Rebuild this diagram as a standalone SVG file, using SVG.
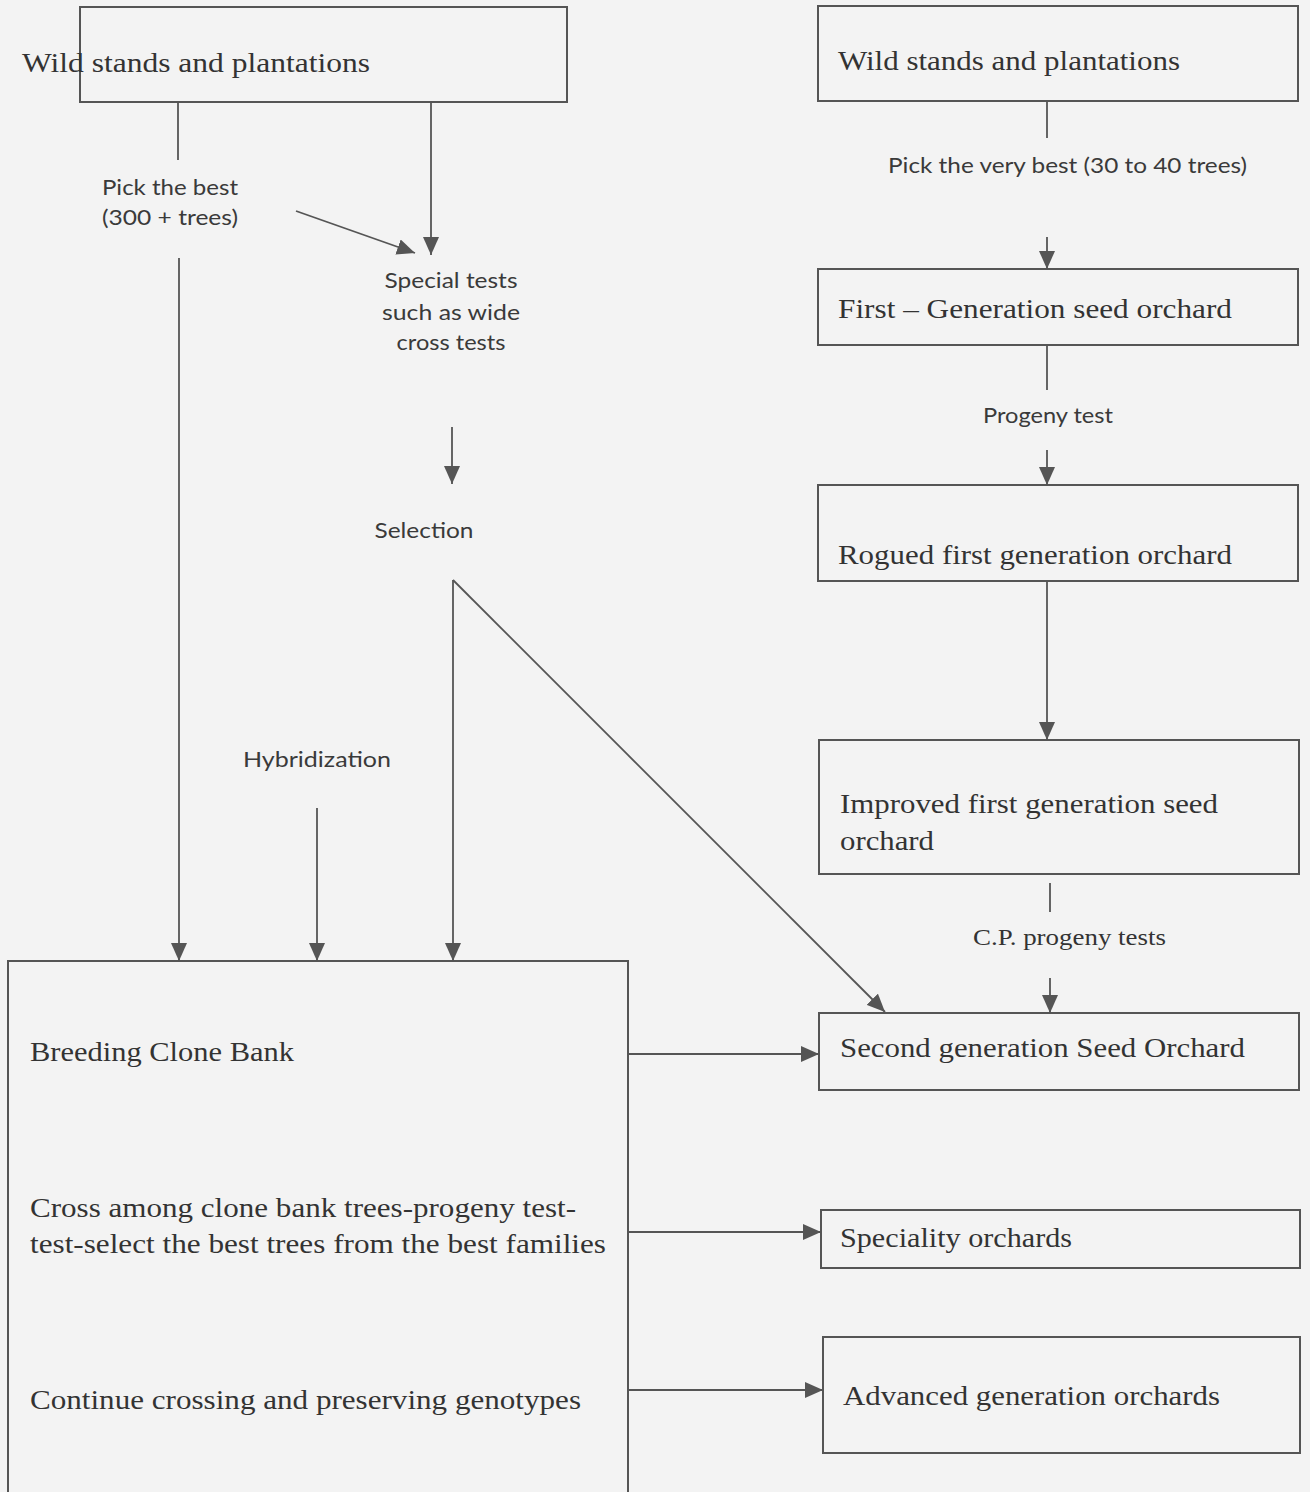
<svg xmlns="http://www.w3.org/2000/svg" width="1310" height="1492" viewBox="0 0 1310 1492">
<style>
.bg{fill:#f3f3f3}
.box{fill:none;stroke:#555;stroke-width:2}
.t{font-family:"Liberation Serif","Times New Roman",serif;font-size:28px;fill:#333}
.l{font-family:Lato,"Open Sans","Liberation Sans",sans-serif;font-size:22px;fill:#3a3a3a}
.c line{stroke:#555;stroke-width:1.8}
.c .a{marker-end:url(#ah)}
</style>
<defs>
<marker id="ah" viewBox="0 0 18 16" refX="18" refY="8" markerWidth="18" markerHeight="16" markerUnits="userSpaceOnUse" orient="auto">
<path d="M0,0 L18,8 L0,16 z" fill="#555"/>
</marker>
</defs>
<rect class="bg" x="0" y="0" width="1310" height="1492"/>

<g id="wild-left">
<rect class="box" x="80" y="7" width="487" height="95"/>
<text class="t" x="22" y="72" textLength="348" lengthAdjust="spacingAndGlyphs">Wild stands and plantations</text>
</g>
<g id="pick-best">
<text class="l" x="170" y="195" text-anchor="middle" textLength="136" lengthAdjust="spacingAndGlyphs">Pick the best</text>
<text class="l" x="170" y="225" text-anchor="middle" textLength="136" lengthAdjust="spacingAndGlyphs">(300 + trees)</text>
</g>
<g id="special-tests">
<text class="l" x="451" y="288" text-anchor="middle" textLength="133" lengthAdjust="spacingAndGlyphs">Special tests</text>
<text class="l" x="451" y="320" text-anchor="middle" textLength="138" lengthAdjust="spacingAndGlyphs">such as wide</text>
<text class="l" x="451" y="350" text-anchor="middle" textLength="109" lengthAdjust="spacingAndGlyphs">cross tests</text>
</g>
<g id="selection">
<text class="l" x="424" y="538" text-anchor="middle" textLength="99" lengthAdjust="spacingAndGlyphs">Selection</text>
</g>
<g id="hybridization">
<text class="l" x="317" y="767" text-anchor="middle" textLength="148" lengthAdjust="spacingAndGlyphs">Hybridization</text>
</g>
<g id="clone-bank">
<rect class="box" x="8" y="961" width="620" height="560"/>
<text class="t" x="30" y="1061" textLength="264" lengthAdjust="spacingAndGlyphs">Breeding Clone Bank</text>
<text class="t" x="30" y="1217" textLength="546" lengthAdjust="spacingAndGlyphs">Cross among clone bank trees-progeny test-</text>
<text class="t" x="30" y="1253" textLength="576" lengthAdjust="spacingAndGlyphs">test-select the best trees from the best families</text>
<text class="t" x="30" y="1409" textLength="551" lengthAdjust="spacingAndGlyphs">Continue crossing and preserving genotypes</text>
</g>

<g id="wild-right">
<rect class="box" x="818" y="6" width="480" height="95"/>
<text class="t" x="838" y="70" textLength="342" lengthAdjust="spacingAndGlyphs">Wild stands and plantations</text>
</g>
<g id="pick-very-best">
<text class="l" x="888" y="173" textLength="359" lengthAdjust="spacingAndGlyphs">Pick the very best (30 to 40 trees)</text>
</g>
<g id="first-gen">
<rect class="box" x="818" y="269" width="480" height="76"/>
<text class="t" x="838" y="318" textLength="394" lengthAdjust="spacingAndGlyphs">First – Generation seed orchard</text>
</g>
<g id="progeny-test">
<text class="l" x="983" y="423" textLength="130" lengthAdjust="spacingAndGlyphs">Progeny test</text>
</g>
<g id="rogued">
<rect class="box" x="818" y="485" width="480" height="96"/>
<text class="t" x="838" y="564" textLength="394" lengthAdjust="spacingAndGlyphs">Rogued first generation orchard</text>
</g>
<g id="improved">
<rect class="box" x="819" y="740" width="480" height="134"/>
<text class="t" x="840" y="813" textLength="378" lengthAdjust="spacingAndGlyphs">Improved first generation seed</text>
<text class="t" x="840" y="850" textLength="94" lengthAdjust="spacingAndGlyphs">orchard</text>
</g>
<g id="cp-progeny">
<text class="t" x="973" y="945" style="font-size:23px" textLength="193" lengthAdjust="spacingAndGlyphs">C.P. progeny tests</text>
</g>
<g id="second-gen">
<rect class="box" x="819" y="1013" width="480" height="77"/>
<text class="t" x="840" y="1057" textLength="405" lengthAdjust="spacingAndGlyphs">Second generation Seed Orchard</text>
</g>
<g id="speciality">
<rect class="box" x="821" y="1210" width="479" height="58"/>
<text class="t" x="840" y="1247" textLength="232" lengthAdjust="spacingAndGlyphs">Speciality orchards</text>
</g>
<g id="advanced">
<rect class="box" x="823" y="1337" width="477" height="116"/>
<text class="t" x="843" y="1405" textLength="377" lengthAdjust="spacingAndGlyphs">Advanced generation orchards</text>
</g>

<g id="connectors" class="c">
<line x1="178" y1="102" x2="178" y2="160"/>
<line class="a" x1="179" y1="258" x2="179" y2="961"/>
<line class="a" x1="431" y1="102" x2="431" y2="255"/>
<line class="a" x1="296" y1="211" x2="415" y2="253"/>
<line class="a" x1="452" y1="427" x2="452" y2="484"/>
<line class="a" x1="453" y1="580" x2="453" y2="961"/>
<line class="a" x1="453" y1="580" x2="885" y2="1012"/>
<line class="a" x1="317" y1="808" x2="317" y2="961"/>
<line x1="1047" y1="102" x2="1047" y2="138"/>
<line class="a" x1="1047" y1="237" x2="1047" y2="269"/>
<line x1="1047" y1="345" x2="1047" y2="390"/>
<line class="a" x1="1047" y1="450" x2="1047" y2="485"/>
<line class="a" x1="1047" y1="581" x2="1047" y2="740"/>
<line x1="1050" y1="883" x2="1050" y2="912"/>
<line class="a" x1="1050" y1="978" x2="1050" y2="1013"/>
<line class="a" x1="628" y1="1054" x2="819" y2="1054"/>
<line class="a" x1="628" y1="1232" x2="821" y2="1232"/>
<line class="a" x1="628" y1="1390" x2="823" y2="1390"/>
</g>
</svg>
